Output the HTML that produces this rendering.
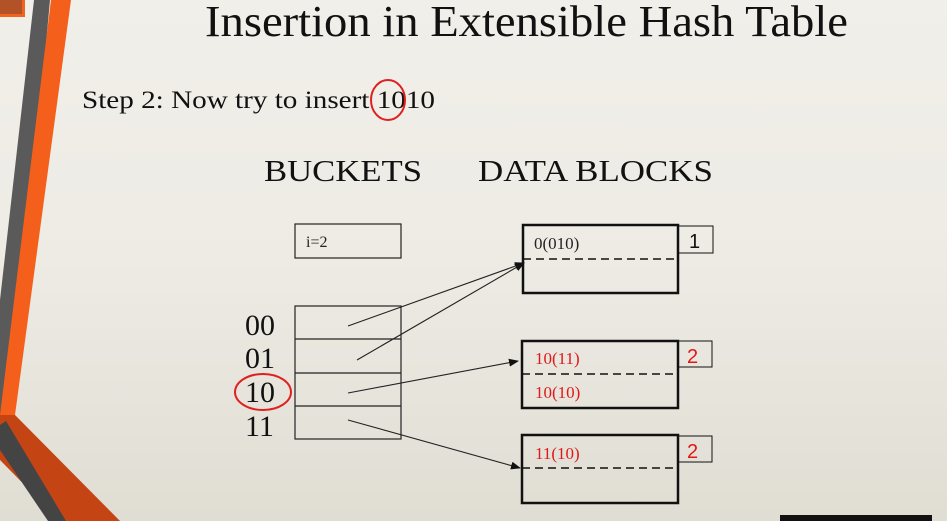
<!DOCTYPE html>
<html><head><style>
html,body{margin:0;padding:0;width:947px;height:521px;overflow:hidden}
body{background:linear-gradient(180deg,#f1efe9 0%,#edebe4 50%,#e0ddd3 100%)}
svg{position:absolute;left:0;top:0}
text{font-family:"Liberation Serif",serif}
</style></head><body>
<svg width="947" height="521" viewBox="0 0 947 521">
<polygon points="0,0 25,0 25,17 0,17" fill="#f0641e"/>
<polygon points="0,0 22,0 22,14 0,14" fill="#2a2a40" opacity="0.3"/>
<polygon points="34,0 50,0 12,415 0,415 0,300" fill="#5a5a5a"/>
<polygon points="51,0 71,0 15,415 0,415" fill="#f4601c"/>
<polygon points="0,415 15,415 120,521 60,521 0,460" fill="#c44414"/>
<polygon points="0,425 6,421 66,521 48,521 0,450" fill="#444"/>
<text x="205" y="36" font-size="44" textLength="643" lengthAdjust="spacingAndGlyphs" fill="#111">Insertion in Extensible Hash Table</text>
<text x="82" y="108" font-size="25" textLength="353" lengthAdjust="spacingAndGlyphs" fill="#111">Step 2: Now try to insert 1010</text>
<ellipse cx="388" cy="100" rx="17" ry="20" fill="none" stroke="#e02020" stroke-width="2"/>
<text x="264" y="181" font-size="31" textLength="158" lengthAdjust="spacingAndGlyphs" fill="#111">BUCKETS</text>
<text x="478" y="181" font-size="31" textLength="235" lengthAdjust="spacingAndGlyphs" fill="#111">DATA BLOCKS</text>
<rect x="295" y="224" width="106" height="34" fill="none" stroke="#222" stroke-width="1.2"/>
<text x="306" y="247" font-size="16" fill="#222">i=2</text>
<rect x="295" y="306" width="106" height="133" fill="none" stroke="#222" stroke-width="1.2"/>
<line x1="295" y1="339" x2="401" y2="339" stroke="#222" stroke-width="1.2"/>
<line x1="295" y1="373" x2="401" y2="373" stroke="#222" stroke-width="1.2"/>
<line x1="295" y1="406" x2="401" y2="406" stroke="#222" stroke-width="1.2"/>
<g font-size="30" fill="#111">
<text x="245" y="335">00</text><text x="245" y="368">01</text>
<text x="245" y="402">10</text><text x="245" y="436">11</text></g>
<ellipse cx="263" cy="392" rx="28" ry="18" fill="none" stroke="#e02020" stroke-width="2"/>
<g fill="none" stroke="#111">
<rect x="523" y="225" width="155" height="68" stroke-width="2.5"/>
<line x1="523" y1="259" x2="678" y2="259" stroke-dasharray="8,5" stroke-width="1.5"/>
<rect x="678" y="226" width="35" height="27" stroke-width="1"/>
<rect x="522" y="341" width="156" height="67" stroke-width="2.5"/>
<line x1="522" y1="374" x2="678" y2="374" stroke-dasharray="8,5" stroke-width="1.5"/>
<rect x="678" y="341" width="34" height="26" stroke-width="1"/>
<rect x="522" y="435" width="156" height="68" stroke-width="2.5"/>
<line x1="522" y1="468" x2="678" y2="468" stroke-dasharray="8,5" stroke-width="1.5"/>
<rect x="678" y="436" width="34" height="26" stroke-width="1"/>
</g>
<text x="534" y="249" font-size="17" fill="#222">0(010)</text>
<text x="689" y="248" font-size="20" fill="#111" style="font-family:'Liberation Sans',sans-serif">1</text>
<g fill="#e01818" font-size="17"><text x="535" y="364">10(11)</text><text x="535" y="398">10(10)</text><text x="535" y="459">11(10)</text></g>
<text x="687" y="363" font-size="20" fill="#e01818" style="font-family:'Liberation Sans',sans-serif">2</text>
<text x="687" y="458" font-size="20" fill="#e01818" style="font-family:'Liberation Sans',sans-serif">2</text>
<defs><marker id="a" markerWidth="10" markerHeight="8" refX="9" refY="4" orient="auto" markerUnits="userSpaceOnUse"><polygon points="0,0 10,4 0,8" fill="#111"/></marker></defs>
<g stroke="#222" stroke-width="1.1" marker-end="url(#a)">
<line x1="348" y1="326" x2="524" y2="263"/>
<line x1="357" y1="360" x2="524" y2="263"/>
<line x1="348" y1="393" x2="518" y2="361"/>
<line x1="348" y1="420" x2="520" y2="468"/>
</g>
<rect x="780" y="515" width="152" height="6" fill="#111"/>
</svg>
</body></html>
